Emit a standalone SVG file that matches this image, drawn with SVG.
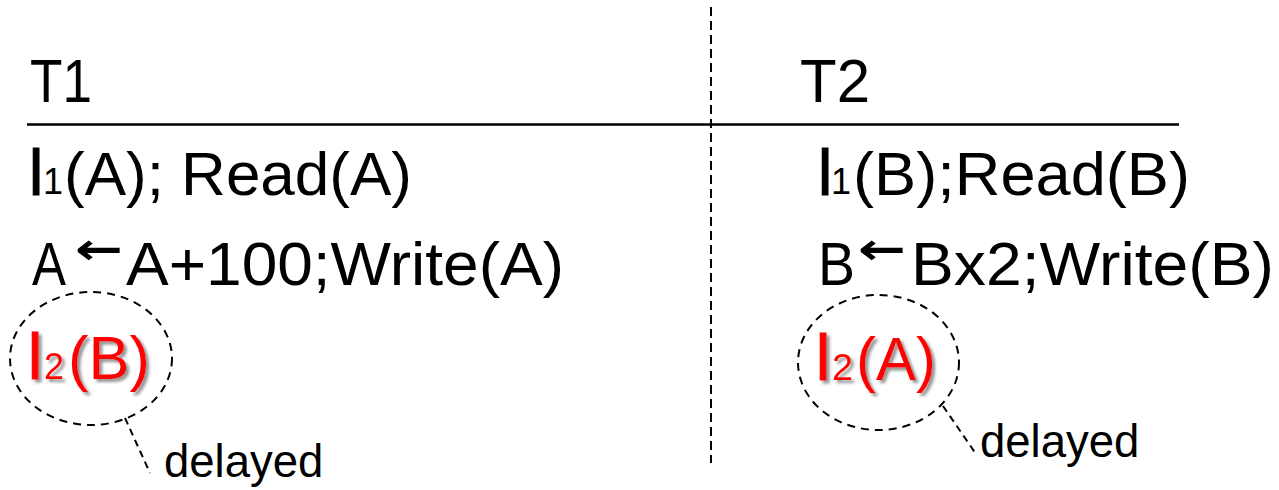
<svg xmlns="http://www.w3.org/2000/svg" width="1279" height="490" viewBox="0 0 1279 490">
<defs>
<style>
.main{font-family:"Liberation Sans",Arial,sans-serif;font-size:62px;fill:#000}
.stem{font-family:"Liberation Sans",Arial,sans-serif;font-size:64px;fill:#000;stroke:#000;stroke-width:1.2}
.sub{font-family:"Liberation Sans",Arial,sans-serif;font-size:36px;fill:#000}
.red{fill:#ff0000}
.stem.red{stroke:#ff0000}
.arrow{font-family:"DejaVu Sans",sans-serif;font-size:44px;font-weight:bold;fill:#000}
.note{font-family:"Liberation Sans",Arial,sans-serif;font-size:45.5px;fill:#000}
.bubble{fill:none;stroke:#000;stroke-width:2;stroke-dasharray:8 6}
.leader{fill:none;stroke:#000;stroke-width:2;stroke-dasharray:7 5}
</style>
<filter id="shadow" x="-10%" y="-10%" width="130%" height="130%">
<feDropShadow dx="3" dy="3" stdDeviation="1.5" flood-color="#808080" flood-opacity="0.85"/>
</filter>
</defs>
<rect width="1279" height="490" fill="#fff"/>
<line x1="27" y1="124.5" x2="1179" y2="124.5" stroke="#000" stroke-width="2.5"/>
<line x1="711" y1="7" x2="711" y2="463" stroke="#000" stroke-width="2" stroke-dasharray="9 5"/>
<g id="t1-header"><text class="main" x="30" y="102" textLength="62" lengthAdjust="spacingAndGlyphs">T1</text></g>
<g id="t2-header"><text class="main" x="800" y="102" textLength="70" lengthAdjust="spacingAndGlyphs">T2</text></g>
<g id="t1-row1">
<text class="stem" x="29" y="195">l</text>
<text class="sub" x="43" y="194">1</text>
<text class="main" x="64" y="195" textLength="348" lengthAdjust="spacingAndGlyphs">(A); Read(A)</text>
</g>
<g id="t1-row2">
<text class="main" x="32" y="285" textLength="34" lengthAdjust="spacingAndGlyphs">A</text>
<text class="arrow" x="75" y="264" textLength="48" lengthAdjust="spacingAndGlyphs">←</text>
<text class="main" x="126" y="285" textLength="438" lengthAdjust="spacingAndGlyphs">A+100;Write(A)</text>
</g>
<g id="t1-lock">
<g filter="url(#shadow)">
<text class="stem red" x="28" y="379">l</text>
<text class="sub red" x="44" y="379" textLength="20" lengthAdjust="spacingAndGlyphs">2</text>
<text class="main red" x="68" y="379" textLength="82" lengthAdjust="spacingAndGlyphs">(B)</text>
</g>
<ellipse class="bubble" cx="91" cy="358.5" rx="81" ry="66.5"/>
</g>
<g id="t2-row1">
<text class="stem" x="818" y="195">l</text>
<text class="sub" x="831" y="194">1</text>
<text class="main" x="853" y="195" textLength="337" lengthAdjust="spacingAndGlyphs">(B);Read(B)</text>
</g>
<g id="t2-row2">
<text class="main" x="818" y="285" textLength="37" lengthAdjust="spacingAndGlyphs">B</text>
<text class="arrow" x="858" y="264" textLength="48" lengthAdjust="spacingAndGlyphs">←</text>
<text class="main" x="911" y="285" textLength="363" lengthAdjust="spacingAndGlyphs">Bx2;Write(B)</text>
</g>
<g id="t2-lock">
<g filter="url(#shadow)">
<text class="stem red" x="816" y="380">l</text>
<text class="sub red" x="832" y="380" textLength="21" lengthAdjust="spacingAndGlyphs">2</text>
<text class="main red" x="856" y="380" textLength="80" lengthAdjust="spacingAndGlyphs">(A)</text>
</g>
<ellipse class="bubble" cx="878.5" cy="362.5" rx="80.5" ry="67.5"/>
</g>
<g id="note-left"><text class="note" x="164" y="477">delayed</text></g>
<g id="note-right"><text class="note" x="980" y="457">delayed</text></g>
<g id="connectors">
<line class="leader" x1="125" y1="418" x2="150" y2="473"/>
<line class="leader" x1="943" y1="406" x2="976" y2="454"/>
</g>
</svg>
